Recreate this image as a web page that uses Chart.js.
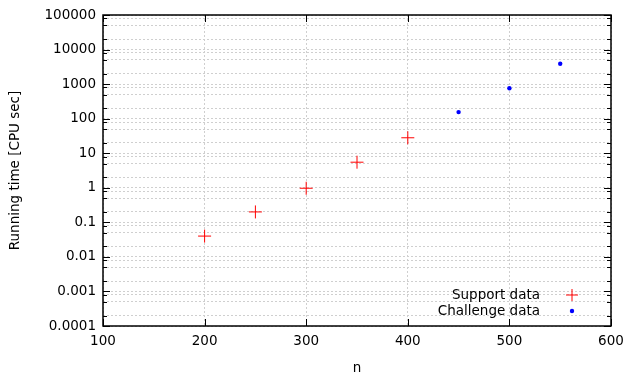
<!DOCTYPE html>
<html>
<head>
<meta charset="utf-8">
<script src="https://cdn.jsdelivr.net/npm/chart.js@4"></script>
<style>
  html, body { margin: 0; padding: 0; background: #fff; }
  #wrap { width: 628px; height: 372px; }
</style>
</head>
<body>
<div id="wrap"><canvas id="c" width="628" height="372"></canvas></div>
<script>
const supportN = [200, 250, 300, 350, 400]
const supportTime = [0.04, 0.2, 0.97, 5.5, 28]
const challengeN = [450, 500, 550]
const challengeTime = [155, 760, 3900]

const xTicks = [100, 200, 300, 400, 500, 600]
const yMajor = [0.0001, 0.001, 0.01, 0.1, 1, 10, 100, 1000, 10000, 100000]
const yLabels = ['0.0001', '0.001', '0.01', '0.1', '1', '10', '100', '1000', '10000', '100000']
const yMinorSteps = [2, 5, 8]

const FONT = { family: 'DejaVu Sans', size: 13.5 }

function yTickList() {
    const ticks = []
    yMajor.forEach((v, i) => {
        ticks.push({ value: v, major: true, label: yLabels[i] })
        if (i < yMajor.length - 1) {
            yMinorSteps.forEach(m => ticks.push({ value: v * m, major: false, label: '' }))
        }
    })
    return ticks
}

// gnuplot style border, inward ticks and legend inside the plot box
const gnuFrame = {
    id: 'gnuFrame',
    afterDatasetsDraw(chart) {
        const { ctx, chartArea: a, scales: { x, y } } = chart
        ctx.save()
        ctx.strokeStyle = '#000'
        ctx.lineWidth = 1
        ctx.beginPath()
        x.ticks.forEach(t => {
            const px = Math.round(x.getPixelForValue(t.value)) + 0.5
            ctx.moveTo(px, a.bottom); ctx.lineTo(px, a.bottom - 7)
            ctx.moveTo(px, a.top); ctx.lineTo(px, a.top + 7)
        })
        y.ticks.forEach(t => {
            const py = Math.round(y.getPixelForValue(t.value)) + 0.5
            const len = t.major ? 7 : 4
            ctx.moveTo(a.left, py); ctx.lineTo(a.left + len, py)
            ctx.moveTo(a.right, py); ctx.lineTo(a.right - len, py)
        })
        ctx.stroke()
        ctx.lineWidth = 1.5
        ctx.strokeRect(a.left, a.top, a.right - a.left, a.bottom - a.top)

        // legend
        ctx.font = FONT.size + 'px "' + FONT.family + '"'
        ctx.textAlign = 'right'
        ctx.textBaseline = 'middle'
        chart.data.datasets.forEach((ds, i) => {
            const ty = a.bottom - 31 + i * 16
            const mx = a.right - 39
            ctx.fillStyle = '#000'
            ctx.fillText(ds.label, a.right - 71, ty)
            if (ds.pointStyle === 'cross') {
                ctx.strokeStyle = ds.borderColor
                ctx.lineWidth = 1
                ctx.beginPath()
                ctx.moveTo(mx - 6, ty); ctx.lineTo(mx + 6, ty)
                ctx.moveTo(mx, ty - 6); ctx.lineTo(mx, ty + 6)
                ctx.stroke()
            } else {
                ctx.fillStyle = ds.backgroundColor
                ctx.beginPath()
                ctx.arc(mx, ty, 2.2, 0, Math.PI * 2)
                ctx.fill()
            }
        })
        ctx.restore()
    }
}

const ctx = document.getElementById('c').getContext('2d')

new Chart(ctx, {
    type: 'scatter',
    data: {
        datasets: [{
            label: 'Support data',
            data: supportN.map((n, i) => ({ x: n, y: supportTime[i] })),
            pointStyle: 'cross',
            pointRadius: 6.5,
            pointHoverRadius: 6.5,
            borderColor: '#ff0000',
            backgroundColor: '#ff0000',
            borderWidth: 1,
        }, {
            label: 'Challenge data',
            data: challengeN.map((n, i) => ({ x: n, y: challengeTime[i] })),
            pointStyle: 'circle',
            pointRadius: 2.2,
            pointHoverRadius: 2.2,
            borderColor: '#0000ff',
            backgroundColor: '#0000ff',
            borderWidth: 0,
        }]
    },
    options: {
        responsive: false,
        animation: false,
        layout: { padding: { top: 15, right: 17, left: 0, bottom: 0 } },
        plugins: {
            legend: { display: false },
            tooltip: { enabled: false },
        },
        scales: {
            x: {
                type: 'linear',
                min: 100,
                max: 600,
                afterBuildTicks: s => { s.ticks = xTicks.map(v => ({ value: v })) },
                afterFit: s => { s.height = 46; s.paddingLeft = 0; s.paddingRight = 0 },
                ticks: { color: '#000', font: FONT, padding: 7, maxRotation: 0 },
                grid: { color: '#cfcfcf', lineWidth: 1, drawTicks: false },
                border: { display: false, dash: [2, 2] },
                title: { display: true, text: 'n', color: '#000', font: { ...FONT, lineHeight: 1 }, padding: { top: 0, bottom: -3 } },
            },
            y: {
                type: 'logarithmic',
                min: 0.0001,
                max: 100000,
                afterBuildTicks: s => { s.ticks = yTickList() },
                afterFit: s => { s.width = 103; s.paddingTop = 0; s.paddingBottom = 0 },
                ticks: {
                    color: '#000',
                    font: FONT,
                    padding: 7,
                    autoSkip: false,
                    callback: (v, i, ticks) => ticks[i].label,
                },
                grid: { color: '#cfcfcf', lineWidth: 1, drawTicks: false },
                border: { display: false, dash: [2, 2] },
                title: { display: true, text: 'Running time [CPU sec]', color: '#000', font: { ...FONT, lineHeight: 1 }, padding: 9 },
            }
        }
    },
    plugins: [gnuFrame]
})
</script>
</body>
</html>
